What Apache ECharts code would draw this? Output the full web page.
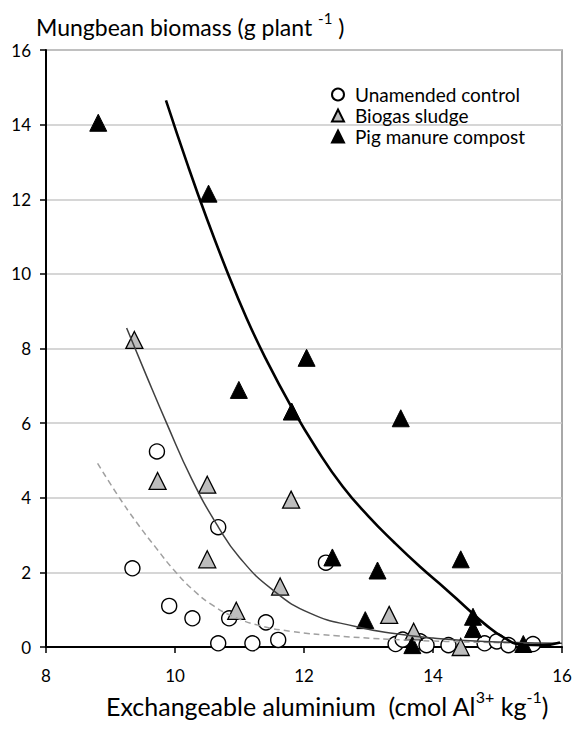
<!DOCTYPE html>
<html>
<head>
<meta charset="utf-8">
<script src="https://cdn.jsdelivr.net/npm/echarts@6/dist/echarts.min.js"></script>
<style>
html,body{margin:0;padding:0;background:#fff;}
#c{width:576px;height:730px;}
</style>
</head>
<body>
<div id="c"></div>
<script>
// x ticks / y ticks
const xTicks = [8, 10, 12, 14, 16];
const yTicks = [0, 2, 4, 6, 8, 10, 12, 14, 16];

// Unamended control: [Al, biomass]
const controlPts = [
  [9.34, 2.11], [9.72, 5.24], [9.91, 1.10], [10.27, 0.77], [10.67, 3.21],
  [10.67, 0.10], [10.84, 0.77], [11.20, 0.10], [11.41, 0.66], [11.60, 0.19],
  [12.34, 2.26], [13.42, 0.08], [13.53, 0.20], [13.80, 0.15], [13.90, 0.05],
  [14.24, 0.05], [14.80, 0.10], [14.99, 0.15], [15.17, 0.05], [15.55, 0.08]
];
// Biogas sludge
const biogasPts = [
  [9.37, 8.23], [9.73, 4.45], [10.50, 4.35], [10.50, 2.35], [10.95, 0.97],
  [11.63, 1.62], [11.80, 3.95], [13.32, 0.86], [13.70, 0.41], [14.43, 0.00]
];
// Pig manure compost
const pigPts = [
  [8.81, 14.05], [10.52, 12.15], [10.99, 6.89], [11.81, 6.31], [12.04, 7.75],
  [12.44, 2.40], [12.95, 0.72], [13.14, 2.05], [13.50, 6.13], [13.68, 0.05],
  [14.43, 2.35], [14.62, 0.81], [14.62, 0.48], [15.40, 0.08]
];

// Fitted curves
const controlFit = [
  [8.80, 4.92], [9.10, 4.10], [9.40, 3.35], [9.70, 2.67], [10.00, 2.03],
  [10.30, 1.50], [10.60, 1.10], [10.90, 0.82], [11.30, 0.58], [11.80, 0.42],
  [12.50, 0.30], [13.30, 0.21], [14.20, 0.15], [15.50, 0.10]
];
const biogasFit = [
  [9.25, 8.55], [9.55, 7.30], [9.87, 6.00], [10.26, 4.50], [10.67, 3.22],
  [11.00, 2.40], [11.50, 1.55], [12.10, 0.90], [12.80, 0.55], [13.40, 0.36],
  [14.00, 0.24], [14.80, 0.15], [16.00, 0.10]
];
const pigFit = [
  [9.86, 14.65], [10.20, 12.90], [10.50, 11.45], [10.80, 10.10], [11.10, 8.85],
  [11.40, 7.75], [11.80, 6.45], [12.20, 5.30], [12.60, 4.30], [13.00, 3.50],
  [13.40, 2.80], [13.80, 2.15], [14.20, 1.55], [14.50, 1.08], [14.80, 0.62],
  [15.10, 0.25], [15.40, 0.06], [15.70, 0.05], [15.97, 0.12]
];

const FONT = 'Lato';
const chart = echarts.init(document.getElementById('c'), null, {renderer: 'svg'});
chart.setOption({
  animation: false,
  backgroundColor: '#fff',
  textStyle: {fontFamily: FONT, color: '#000'},
  grid: {left: 46, right: 14, top: 50, bottom: 83, show: true, borderColor: '#8c8c8c', borderWidth: 1.5},
  legend: {
    orient: 'vertical', left: 326, top: 80,
    itemWidth: 12, itemHeight: 12, itemGap: 2,
    textStyle: {fontFamily: FONT, fontSize: 19, color: '#000', padding: [0, 0, 0, 6]},
    data: ['Unamended control', 'Biogas sludge', 'Pig manure compost']
  },
  xAxis: {
    type: 'value', min: xTicks[0], max: xTicks[xTicks.length - 1], interval: 2,
    axisLine: {lineStyle: {color: '#000', width: 2}},
    axisTick: {length: 6, lineStyle: {color: '#000', width: 1.5}},
    axisLabel: {fontFamily: FONT, fontSize: 17, color: '#000', margin: 20},
    splitLine: {show: false},
    name: '{a|Exchangeable aluminium  (cmol Al}{s|3+}{a| kg}{s|-1}{a|)}',
    nameLocation: 'middle', nameGap: 39,
    nameTextStyle: {
      padding: [0, 0, 0, 46],
      rich: {
        a: {fontFamily: FONT, fontSize: 25, color: '#000', verticalAlign: 'bottom', lineHeight: 30},
        s: {fontFamily: FONT, fontSize: 16, color: '#000', verticalAlign: 'top', lineHeight: 30, padding: [0, 0, 13, 0]}
      }
    }
  },
  yAxis: {
    type: 'value', min: yTicks[0], max: yTicks[yTicks.length - 1], interval: 2,
    axisLine: {show: true, lineStyle: {color: '#000', width: 2}},
    axisTick: {show: true, length: 6, lineStyle: {color: '#000', width: 1.5}},
    axisLabel: {fontFamily: FONT, fontSize: 17, color: '#000', margin: 15},
    splitLine: {show: true, lineStyle: {color: '#c8c8c8', width: 1.5}},
    name: '{a|Mungbean biomass (g plant }{s|-1}{a| )}',
    nameLocation: 'end', nameGap: 12,
    nameTextStyle: {
      align: 'left', padding: [0, 0, 0, -10],
      rich: {
        a: {fontFamily: FONT, fontSize: 23, color: '#000', verticalAlign: 'bottom', lineHeight: 28},
        s: {fontFamily: FONT, fontSize: 15, color: '#000', verticalAlign: 'top', lineHeight: 28, padding: [0, 0, 11, 0]}
      }
    }
  },
  series: [
    {
      name: 'Unamended control', type: 'scatter', data: controlPts, z: 2,
      symbol: 'circle', symbolSize: 15,
      itemStyle: {color: '#fff', borderColor: '#000', borderWidth: 1.4, opacity: 1}
    },
    {
      name: 'Biogas sludge', type: 'scatter', data: biogasPts, z: 3,
      symbol: 'triangle', symbolSize: 17,
      itemStyle: {color: '#bdbdbd', borderColor: '#000', borderWidth: 1.3, opacity: 1}
    },
    {
      name: 'Pig manure compost', type: 'scatter', data: pigPts, z: 4,
      symbol: 'triangle', symbolSize: 17,
      itemStyle: {color: '#000', borderColor: '#000', borderWidth: 1, opacity: 1}
    },
    {
      type: 'line', data: controlFit, smooth: 0.5, showSymbol: false, z: 5, silent: true,
      lineStyle: {color: '#a0a0a0', width: 1.5, type: [6, 4]}
    },
    {
      type: 'line', data: biogasFit, smooth: 0.5, showSymbol: false, z: 5, silent: true,
      lineStyle: {color: '#404040', width: 1.5}
    },
    {
      type: 'line', data: pigFit, smooth: 0.5, showSymbol: false, z: 6, silent: true,
      lineStyle: {color: '#000', width: 2.6}
    }
  ]
});
</script>
</body>
</html>
